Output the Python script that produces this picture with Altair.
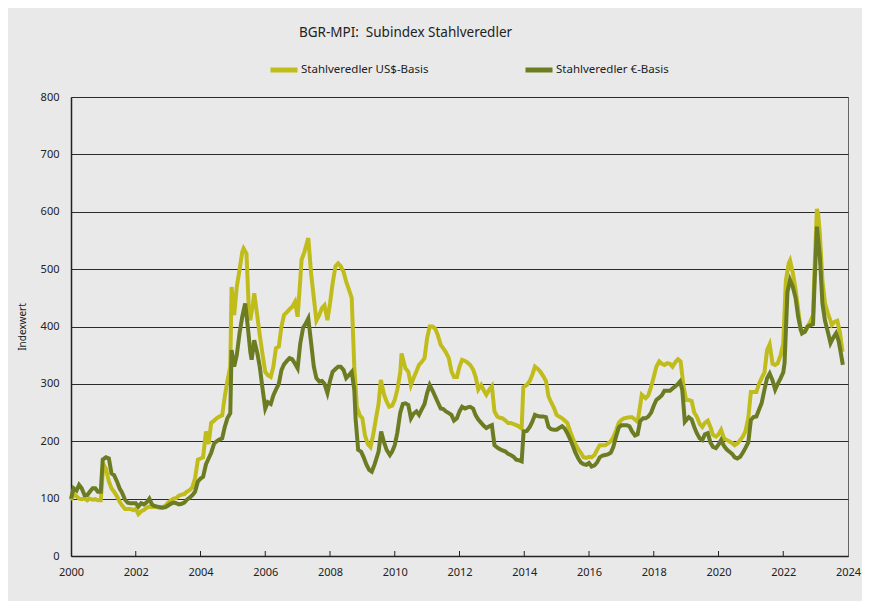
import altair as alt
import pandas as pd

# ---------------- data ----------------
S1 = "Stahlveredler US$-Basis"
S2 = "Stahlveredler €-Basis"

us_t = [2000.00, 2000.08, 2000.17, 2000.25, 2000.33, 2000.42, 2000.50, 2000.58, 2000.67, 2000.75, 2000.83, 2000.92,
        2001.00, 2001.08, 2001.17, 2001.25, 2001.33, 2001.42, 2001.50, 2001.58, 2001.67, 2001.75, 2001.83, 2001.92,
        2002.00, 2002.08, 2002.17, 2002.25, 2002.33, 2002.42, 2002.50, 2002.58, 2002.67, 2002.75, 2002.83, 2002.92,
        2003.00, 2003.08, 2003.17, 2003.25, 2003.33, 2003.42, 2003.50, 2003.58, 2003.67, 2003.75, 2003.83, 2003.92,
        2004.00, 2004.08, 2004.17, 2004.25, 2004.33, 2004.42, 2004.50, 2004.58, 2004.67, 2004.75, 2004.83, 2004.92,
        2004.96, 2005.04, 2005.12, 2005.21, 2005.29, 2005.33, 2005.42, 2005.50, 2005.54, 2005.62, 2005.66, 2005.75,
        2005.83, 2005.92, 2006.00, 2006.08, 2006.17, 2006.25, 2006.33, 2006.42, 2006.50, 2006.58, 2006.67, 2006.75,
        2006.83, 2006.92, 2007.00, 2007.08, 2007.12, 2007.21, 2007.33, 2007.42, 2007.50, 2007.58, 2007.67, 2007.75,
        2007.83, 2007.92, 2008.00, 2008.08, 2008.17, 2008.25, 2008.33, 2008.42, 2008.50, 2008.58, 2008.67, 2008.75,
        2008.83, 2008.92, 2009.00, 2009.08, 2009.17, 2009.25, 2009.33, 2009.42, 2009.50, 2009.57, 2009.67, 2009.75,
        2009.83, 2009.92, 2010.00, 2010.08, 2010.17, 2010.21, 2010.33, 2010.42, 2010.50, 2010.58, 2010.67, 2010.75,
        2010.83, 2010.92, 2011.00, 2011.08, 2011.17, 2011.25, 2011.33, 2011.42, 2011.50, 2011.58, 2011.67, 2011.75,
        2011.83, 2011.92, 2012.00, 2012.08, 2012.17, 2012.25, 2012.33, 2012.42, 2012.50, 2012.58, 2012.67, 2012.75,
        2012.83, 2012.92, 2013.00, 2013.08, 2013.17, 2013.25, 2013.33, 2013.42, 2013.50, 2013.58, 2013.67, 2013.75,
        2013.83, 2013.92, 2013.97, 2014.08, 2014.17, 2014.25, 2014.33, 2014.42, 2014.50, 2014.58, 2014.67, 2014.75,
        2014.83, 2014.92, 2015.00, 2015.08, 2015.17, 2015.25, 2015.33, 2015.42, 2015.50, 2015.58, 2015.67, 2015.75,
        2015.83, 2015.92, 2016.00, 2016.08, 2016.17, 2016.25, 2016.33, 2016.42, 2016.50, 2016.58, 2016.67, 2016.75,
        2016.83, 2016.92, 2017.00, 2017.08, 2017.17, 2017.25, 2017.33, 2017.42, 2017.50, 2017.58, 2017.63, 2017.75,
        2017.83, 2017.92, 2018.00, 2018.08, 2018.17, 2018.25, 2018.33, 2018.42, 2018.50, 2018.58, 2018.67, 2018.75,
        2018.83, 2018.92, 2019.00, 2019.08, 2019.17, 2019.25, 2019.33, 2019.42, 2019.50, 2019.58, 2019.67, 2019.75,
        2019.83, 2019.92, 2020.00, 2020.08, 2020.17, 2020.25, 2020.33, 2020.42, 2020.50, 2020.58, 2020.67, 2020.75,
        2020.83, 2020.92, 2021.00, 2021.08, 2021.17, 2021.25, 2021.33, 2021.42, 2021.50, 2021.58, 2021.67, 2021.75,
        2021.83, 2021.92, 2022.00, 2022.08, 2022.17, 2022.21, 2022.29, 2022.38, 2022.46, 2022.54, 2022.67, 2022.75,
        2022.83, 2022.92, 2022.96, 2023.04, 2023.08, 2023.13, 2023.21, 2023.29, 2023.38, 2023.50, 2023.58, 2023.67,
        2023.75, 2023.83]
us_v = [97, 108, 104, 100, 99, 100, 97, 100, 98, 99, 97, 97,
        160, 152, 130, 118, 112, 104, 95, 88, 82, 82, 82, 80,
        82, 73, 78, 80, 84, 86, 85, 86, 85, 84, 85, 88,
        93, 97, 100, 101, 105, 107, 108, 112, 115, 120, 135, 168,
        170, 172, 217, 195, 232, 236, 240, 243, 245, 278, 305, 330,
        469, 420, 469, 500, 530, 536, 527, 420, 411, 440, 458, 420,
        385, 350, 321, 315, 312, 330, 362, 365, 400, 420, 425, 430,
        434, 443, 417, 480, 516, 530, 554, 490, 450, 410, 420, 432,
        437, 411, 440, 475, 505, 510, 505, 495, 478, 465, 450, 330,
        260, 245, 240, 210, 195, 190, 210, 240, 265, 307, 281, 269,
        260, 262, 272, 290, 320, 353, 327, 321, 298, 310, 322, 333,
        338, 345, 380, 400, 400, 396, 385, 368, 362, 355, 345, 322,
        312, 312, 330, 342, 340, 337, 333, 325, 312, 290, 298, 289,
        281, 290, 296, 252, 243, 241, 240, 236, 232, 232, 230, 228,
        226, 222, 294, 298, 305, 316, 330, 326, 321, 314, 305, 278,
        268, 258, 246, 243, 240, 236, 232, 217, 205, 195, 186, 180,
        172, 171, 173, 172, 176, 185, 193, 193, 193, 196, 200, 207,
        218, 232, 237, 240, 241, 242, 242, 238, 234, 262, 281, 275,
        280, 295, 312, 330, 339, 335, 333, 336, 335, 330, 338, 343,
        339, 295, 272, 272, 270, 250, 243, 230, 225, 232, 236, 225,
        211, 208, 212, 220, 205, 202, 200, 197, 193, 196, 202, 208,
        217, 240, 286, 286, 286, 300, 310, 320, 359, 369, 335, 333,
        336, 350, 371, 480, 510, 515, 495, 465, 430, 394, 391, 400,
        408, 420, 490, 605, 595, 562, 480, 440, 423, 403, 408, 410,
        390, 356]

eu_t = [2000.00, 2000.08, 2000.17, 2000.25, 2000.33, 2000.42, 2000.50, 2000.58, 2000.67, 2000.75, 2000.83, 2000.92,
        2000.98, 2001.08, 2001.17, 2001.25, 2001.33, 2001.42, 2001.50, 2001.58, 2001.67, 2001.75, 2001.83, 2001.92,
        2002.00, 2002.08, 2002.17, 2002.25, 2002.33, 2002.42, 2002.50, 2002.58, 2002.67, 2002.75, 2002.83, 2002.92,
        2003.00, 2003.08, 2003.17, 2003.25, 2003.33, 2003.42, 2003.50, 2003.58, 2003.67, 2003.75, 2003.83, 2003.92,
        2004.00, 2004.08, 2004.17, 2004.25, 2004.33, 2004.42, 2004.50, 2004.58, 2004.67, 2004.75, 2004.83, 2004.92,
        2004.96, 2005.04, 2005.12, 2005.21, 2005.29, 2005.38, 2005.46, 2005.54, 2005.58, 2005.66, 2005.75, 2005.83,
        2005.92, 2006.00, 2006.08, 2006.17, 2006.25, 2006.33, 2006.42, 2006.50, 2006.58, 2006.67, 2006.75, 2006.83,
        2006.92, 2007.00, 2007.08, 2007.17, 2007.25, 2007.33, 2007.42, 2007.50, 2007.58, 2007.67, 2007.75, 2007.83,
        2007.92, 2008.00, 2008.08, 2008.17, 2008.25, 2008.33, 2008.42, 2008.50, 2008.58, 2008.67, 2008.75, 2008.79,
        2008.87, 2008.96, 2009.04, 2009.12, 2009.21, 2009.29, 2009.38, 2009.50, 2009.58, 2009.67, 2009.75, 2009.85,
        2009.92, 2010.00, 2010.08, 2010.17, 2010.25, 2010.33, 2010.42, 2010.50, 2010.58, 2010.67, 2010.75, 2010.83,
        2010.92, 2011.00, 2011.08, 2011.17, 2011.25, 2011.33, 2011.42, 2011.50, 2011.58, 2011.67, 2011.75, 2011.83,
        2011.92, 2012.00, 2012.08, 2012.17, 2012.25, 2012.33, 2012.42, 2012.50, 2012.58, 2012.67, 2012.75, 2012.83,
        2012.92, 2013.00, 2013.08, 2013.17, 2013.25, 2013.33, 2013.42, 2013.50, 2013.58, 2013.67, 2013.75, 2013.83,
        2013.92, 2013.98, 2014.08, 2014.17, 2014.25, 2014.33, 2014.42, 2014.50, 2014.58, 2014.67, 2014.75, 2014.83,
        2014.92, 2015.00, 2015.08, 2015.17, 2015.25, 2015.33, 2015.42, 2015.50, 2015.58, 2015.67, 2015.75, 2015.83,
        2015.92, 2016.00, 2016.08, 2016.17, 2016.25, 2016.33, 2016.42, 2016.50, 2016.58, 2016.67, 2016.75, 2016.83,
        2016.92, 2017.00, 2017.08, 2017.17, 2017.25, 2017.33, 2017.42, 2017.50, 2017.58, 2017.67, 2017.75, 2017.83,
        2017.92, 2018.00, 2018.08, 2018.17, 2018.25, 2018.33, 2018.42, 2018.50, 2018.58, 2018.67, 2018.75, 2018.81,
        2018.88, 2018.96, 2019.08, 2019.17, 2019.25, 2019.33, 2019.42, 2019.50, 2019.58, 2019.67, 2019.75, 2019.83,
        2019.92, 2020.00, 2020.08, 2020.17, 2020.25, 2020.33, 2020.42, 2020.50, 2020.58, 2020.67, 2020.75, 2020.83,
        2020.92, 2021.00, 2021.08, 2021.17, 2021.25, 2021.33, 2021.42, 2021.50, 2021.58, 2021.67, 2021.75, 2021.83,
        2021.92, 2022.00, 2022.04, 2022.13, 2022.21, 2022.29, 2022.38, 2022.46, 2022.54, 2022.58, 2022.67, 2022.75,
        2022.83, 2022.92, 2022.96, 2023.04, 2023.13, 2023.21, 2023.29, 2023.38, 2023.46, 2023.54, 2023.63, 2023.71,
        2023.79, 2023.84]
eu_v = [100, 118, 114, 124, 118, 106, 106, 112, 118, 118, 112, 112,
        168, 172, 170, 144, 141, 130, 118, 110, 98, 93, 92, 92,
        92, 86, 92, 90, 93, 100, 90, 87, 86, 85, 84, 85,
        88, 91, 93, 92, 90, 91, 93, 98, 102, 106, 112, 130,
        135, 138, 160, 170, 180, 196, 200, 203, 205, 225, 240, 249,
        359, 330, 350, 390, 417, 440, 400, 355, 342, 376, 355, 330,
        290, 257, 268, 265, 280, 290, 300, 324, 334, 340, 345, 343,
        335, 327, 370, 398, 405, 414, 370, 330, 310, 304, 305, 300,
        284, 305, 321, 326, 330, 330, 324, 310, 315, 321, 290, 240,
        185, 182, 172, 160, 150, 147, 160, 182, 217, 198, 185, 176,
        182, 193, 215, 250, 265, 266, 263, 240, 248, 252, 246, 255,
        265, 284, 298, 288, 278, 268, 257, 256, 252, 249, 246, 236,
        240, 252, 260, 257, 259, 260, 257, 245, 238, 232, 227, 223,
        226, 228, 193, 189, 186, 184, 182, 178, 176, 173, 168, 167,
        165, 217, 218, 225, 234, 246, 244, 243, 243, 242, 225, 221,
        220, 220, 223, 226, 222, 214, 203, 192, 180, 170, 163, 160,
        159, 162, 156, 158, 163, 172, 175, 176, 177, 180, 190, 207,
        224, 228, 228, 228, 226, 217, 210, 212, 235, 240, 240, 243,
        250, 262, 272, 276, 280, 288, 288, 288, 292, 296, 300, 304,
        290, 234, 242, 238, 225, 214, 205, 202, 212, 214, 198, 190,
        188, 194, 202, 192, 186, 182, 178, 172, 170, 173, 180, 188,
        198, 237, 242, 243, 255, 266, 290, 310, 318, 306, 290, 300,
        310, 320, 336, 460, 481, 470, 450, 417, 395, 388, 391, 400,
        402, 404, 464, 574, 522, 440, 410, 390, 371, 380, 388, 375,
        350, 333]

tick_years = [2000, 2002, 2004, 2006, 2008, 2010, 2012, 2014, 2016, 2018, 2020, 2022, 2024]
y_ticks = [0, 100, 200, 300, 400, 500, 600, 700, 800]

C_US = "#c0bc1b"
C_EU = "#6b7c22"
FONT = "Noto Sans"

df = pd.concat([
    pd.DataFrame({"t": us_t, "v": us_v, "s": S1}),
    pd.DataFrame({"t": eu_t, "v": eu_v, "s": S2}),
], ignore_index=True)
ticks_df = pd.DataFrame({"t": tick_years[1:-1]})

x_enc = alt.X("t:Q",
              scale=alt.Scale(domain=[2000, 2024], nice=False, zero=False),
              axis=alt.Axis(values=tick_years, format="d", title=None, grid=False,
                            tickSize=0, labelPadding=10, labelFontSize=11,
                            labelFlush=False, labelOverlap=False,
                            labelColor="#222", domainColor="#222", domainWidth=1.5,
                            labelFont=FONT))
y_enc = alt.Y("v:Q",
              scale=alt.Scale(domain=[0, 800], nice=False),
              axis=alt.Axis(values=y_ticks, title="Indexwert", grid=True,
                            gridColor="#2b2b2b", gridWidth=1.1,
                            tickSize=0, labelPadding=12, labelFontSize=11,
                            labelFlush=False,
                            labelColor="#222", domainColor="#222", domainWidth=1.5,
                            labelFont=FONT, titleFont=FONT, titleFontSize=10,
                            titleFontWeight="normal", titleColor="#222",
                            titleX=-49, titleY=229.5, titleAngle=-90,
                            titleAlign="center", titleBaseline="middle"))

color = alt.Color("s:N",
                  scale=alt.Scale(domain=[S1, S2], range=[C_US, C_EU]),
                  legend=alt.Legend(title=None, orient="none", direction="horizontal",
                                    legendX=197, legendY=-43,
                                    symbolType="stroke", symbolSize=729,
                                    symbolStrokeWidth=5, labelOffset=1,
                                    columnPadding=86, labelFontSize=11.5,
                                    labelFont=FONT, labelColor="#222"))

base = alt.Chart(df)
line_us = base.transform_filter(alt.datum.s == S1).mark_line(strokeWidth=4).encode(
    x=x_enc, y=y_enc, color=color)
line_eu = base.transform_filter(alt.datum.s == S2).mark_line(strokeWidth=4).encode(
    x=x_enc, y=y_enc, color=color)
tick_marks = alt.Chart(ticks_df).mark_rule(color="#222", strokeWidth=1).encode(
    x=x_enc, y=alt.value(459), y2=alt.value(454))

chart = alt.layer(line_us, line_eu, tick_marks).properties(
    width=777, height=459,
    autosize=alt.AutoSizeParams(type="none"),
    padding={"left": 63, "top": 89, "right": 14, "bottom": 45},
    background="#e9e9e9",
    title=alt.TitleParams("BGR-MPI:\u00a0 Subindex Stahlveredler", anchor="middle",
                          dx=-54, offset=15, fontSize=13.5, font=FONT,
                          fontWeight="normal", color="#222"),
).configure_view(stroke="#666", strokeWidth=1)

chart.save("out.html", embed_options={"renderer": "svg", "actions": False})
